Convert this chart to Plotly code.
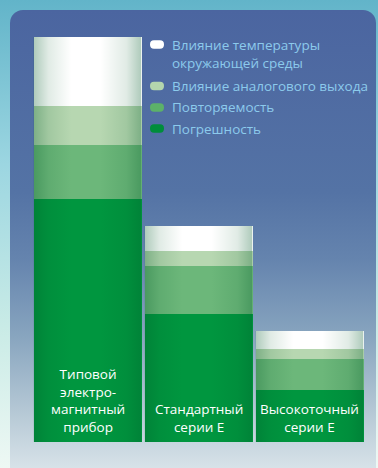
import base64
import plotly.graph_objects as go

categories = ["typical", "standard", "precision"]
bar_labels = ["Типовой<br>электро-<br>магнитный<br>прибор",
              "Стандартный<br>серии Е",
              "Высокоточный<br>серии Е"]

series_names = ["Погрешность",
                "Повторяемость",
                "Влияние аналогового выхода",
                "Влияние температуры<br>окружающей среды"]
error_vals = [2.43, 1.28, 0.52]
repeat_vals = [0.54, 0.48, 0.31]
analog_vals = [0.39, 0.15, 0.10]
temp_vals = [0.69, 0.25, 0.18]
series_vals = [error_vals, repeat_vals, analog_vals, temp_vals]
series_colors = ["#00963f", "#6cb77a", "#b7d7b1", "#ffffff"]

W, H = 378, 468
L, R, T, B = 32, 13, 10, 26
PW, PH = W - L - R, H - T - B
BARGAP = 0.027
FONT = "Open Sans"


def px_x(px):
    return (px - L) / PW


def px_y(py):
    return 1 - (py - T) / PH


def svg_uri(svg):
    return "data:image/svg+xml;base64," + base64.b64encode(svg.encode()).decode()


background = svg_uri(f"""<svg xmlns='http://www.w3.org/2000/svg' width='{W}' height='{H}' viewBox='0 0 {W} {H}'>
<defs>
<linearGradient id='o' x1='0' y1='0' x2='0' y2='1'>
<stop offset='0' stop-color='#62b4c9'/><stop offset='0.35' stop-color='#9cd6e1'/>
<stop offset='0.7' stop-color='#c9ebe6'/><stop offset='1' stop-color='#eef8f4'/></linearGradient>
<linearGradient id='p' x1='0' y1='0' x2='0' y2='1'>
<stop offset='0' stop-color='#4b65a0'/><stop offset='0.38' stop-color='#5473a5'/>
<stop offset='0.52' stop-color='#6584ae'/><stop offset='0.68' stop-color='#88a5bf'/>
<stop offset='0.85' stop-color='#b9cbd7'/><stop offset='1' stop-color='#e4ecf0'/></linearGradient>
</defs>
<rect width='{W}' height='{H}' fill='url(#o)'/>
<rect x='10' y='10' width='366' height='480' rx='13' ry='13' fill='url(#p)'/>
</svg>""")

shade = svg_uri("""<svg xmlns='http://www.w3.org/2000/svg' width='100' height='100' viewBox='0 0 100 100' preserveAspectRatio='none'>
<defs><linearGradient id='g' x1='0' y1='0' x2='1' y2='0'>
<stop offset='0' stop-color='#005a28' stop-opacity='0.32'/>
<stop offset='0.14' stop-color='#005a28' stop-opacity='0.12'/>
<stop offset='0.35' stop-color='#005a28' stop-opacity='0'/>
<stop offset='0.62' stop-color='#005a28' stop-opacity='0'/>
<stop offset='0.86' stop-color='#005a28' stop-opacity='0.12'/>
<stop offset='1' stop-color='#005a28' stop-opacity='0.32'/>
</linearGradient></defs>
<rect width='100' height='100' fill='url(#g)'/></svg>""")

fig = go.Figure()
for name, vals, color in zip(series_names, series_vals, series_colors):
    fig.add_trace(go.Bar(x=categories, y=vals, name=name, marker_color=color,
                         marker_line_width=0, showlegend=False,
                         hoverinfo="skip"))

totals = [sum(v) for v in zip(*series_vals)]

images = [dict(source=background, xref="paper", yref="paper",
               x=px_x(0), y=px_y(0), sizex=W / PW, sizey=H / PH,
               xanchor="left", yanchor="top", sizing="stretch", layer="below")]
for i, tot in enumerate(totals):
    images.append(dict(source=shade, xref="x", yref="y", x=i, y=tot,
                       sizex=1 - BARGAP, sizey=tot, xanchor="center",
                       yanchor="top", sizing="stretch", layer="above"))

annotations = []
for cat, lab in zip(categories, bar_labels):
    annotations.append(dict(x=cat, y=0, xref="x", yref="y", text=lab,
                            showarrow=False, yanchor="bottom", yshift=4,
                            align="center",
                            font=dict(family=FONT, size=13.5, color="white")))

# hand-built legend: pill swatches + text, top to bottom
legend_y = [54, 86, 107.5, 128.5]
swatch_y = [44.5, 86, 107.5, 128.5]
shapes = []
pill = "M -3,-4.2 L 3,-4.2 Q 7,-4.2 7,0 Q 7,4.2 3,4.2 L -3,4.2 Q -7,4.2 -7,0 Q -7,-4.2 -3,-4.2 Z"
legend_order = list(zip(series_names, series_colors))[::-1]
swatch_colors = ["#ffffff", "#b3d6ad", "#5cb169", "#008d3b"]
for (name, _), sc, ty, sy in zip(legend_order, swatch_colors, legend_y, swatch_y):
    shapes.append(dict(type="path", xref="paper", yref="paper",
                       xsizemode="pixel", ysizemode="pixel",
                       xanchor=px_x(157), yanchor=px_y(sy), path=pill,
                       fillcolor=sc, line_width=0))
    annotations.append(dict(x=px_x(170), y=px_y(ty), xref="paper", yref="paper",
                            text=name, showarrow=False, xanchor="left",
                            yanchor="middle", align="left",
                            font=dict(family=FONT, size=13.5, color="#8ccaec")))

fig.update_layout(
    width=W, height=H,
    barmode="stack", bargap=BARGAP,
    margin=dict(l=L, r=R, t=T, b=B),
    paper_bgcolor="#e6eef1", plot_bgcolor="rgba(0,0,0,0)",
    xaxis=dict(visible=False, range=[-0.5, 2.5]),
    yaxis=dict(visible=False, range=[0, PH / 100]),
    images=images, shapes=shapes, annotations=annotations,
    showlegend=False,
)

# drop the default body margin so the figure sits at the window's corner
fig.write_html("out.html", config={"displayModeBar": False},
               post_script="document.body.style.margin='0';")
